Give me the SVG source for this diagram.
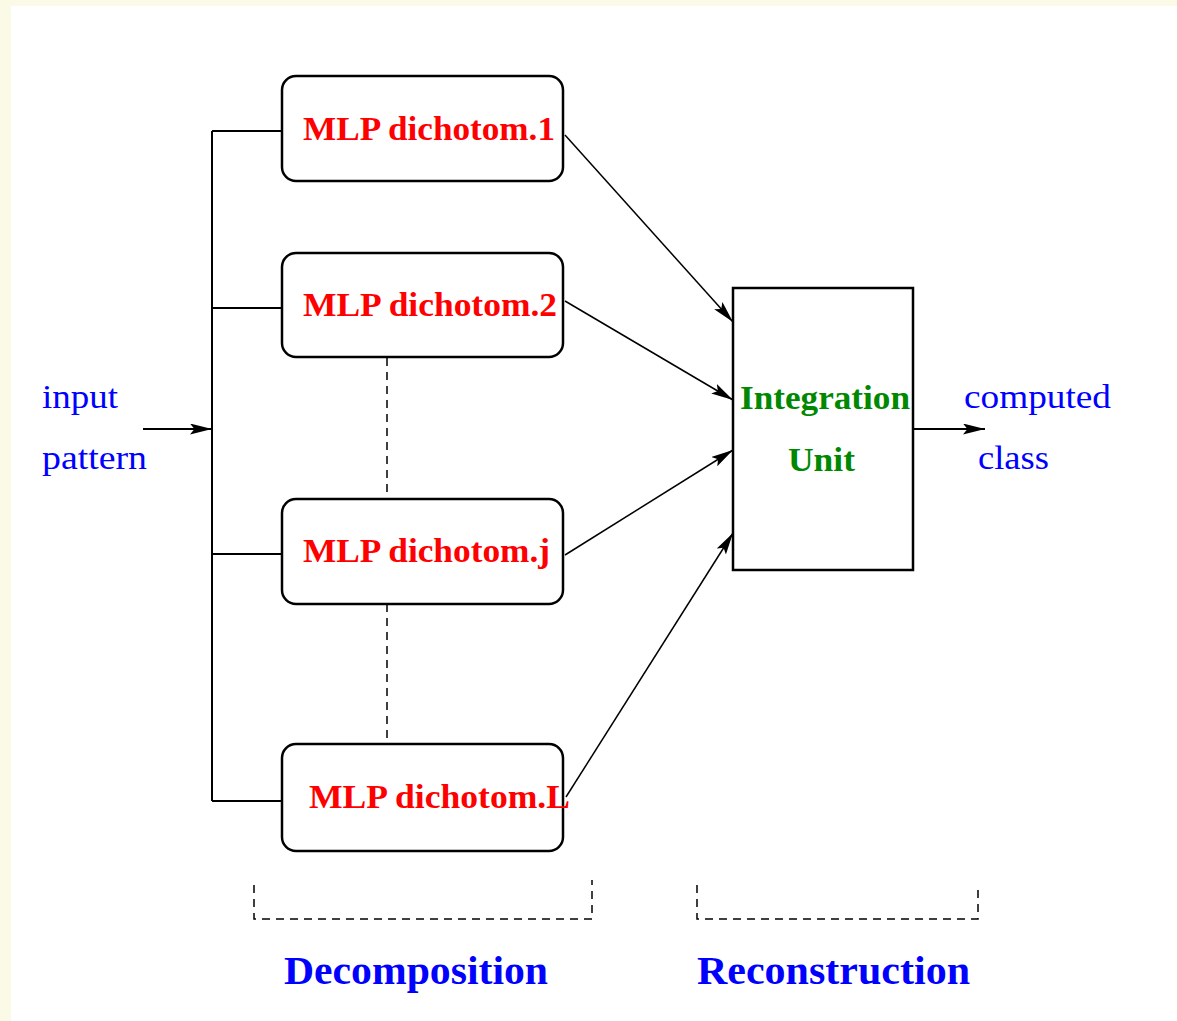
<svg xmlns="http://www.w3.org/2000/svg" width="1177" height="1021" viewBox="0 0 1177 1021">
<defs>
<style>
.box{fill:#fff;stroke:#000;stroke-width:2.5}
.ln{stroke:#000;stroke-width:2;fill:none}
.thin{stroke:#000;stroke-width:1.5;fill:none}
.dash{stroke:#000;stroke-width:1.5;fill:none;stroke-dasharray:8,6}
.mlp{font-family:"Liberation Serif",serif;font-weight:bold;font-size:33px;fill:#ff0000}
.int{font-family:"Liberation Serif",serif;font-weight:bold;font-size:33px;fill:#008800}
.io{font-family:"Liberation Serif",serif;font-size:34px;fill:#0000ff}
.sec{font-family:"Liberation Serif",serif;font-weight:bold;font-size:40px;fill:#0000ff}
</style>
<marker id="ah" viewBox="0 0 20 10" refX="20" refY="5" markerWidth="22" markerHeight="11" markerUnits="userSpaceOnUse" orient="auto">
<path d="M0,0 L20,5 L0,10 L4,5 Z" fill="#000"/>
</marker>
</defs>
<rect x="0" y="0" width="1177" height="1021" fill="#fafae6"/>
<rect x="11" y="6" width="1166" height="1015" fill="#fff"/>
<g id="connectors">
<path class="ln" d="M212,131 V801 M212,131 H282 M212,308 H282 M212,554 H282 M212,801 H282"/>
<line class="ln" x1="143" y1="429" x2="212" y2="429" marker-end="url(#ah)"/>
<line class="dash" x1="387" y1="358" x2="387" y2="498"/>
<line class="dash" x1="387" y1="604" x2="387" y2="744"/>
<line class="thin" x1="565" y1="135" x2="733" y2="322" marker-end="url(#ah)"/>
<line class="thin" x1="565" y1="301" x2="733" y2="400" marker-end="url(#ah)"/>
<line class="thin" x1="565" y1="555" x2="733" y2="450" marker-end="url(#ah)"/>
<line class="thin" x1="566" y1="797" x2="733" y2="533" marker-end="url(#ah)"/>
<line class="ln" x1="913" y1="429" x2="985" y2="429" marker-end="url(#ah)"/>
</g>
<g id="node1"><rect class="box" x="282" y="76" width="281" height="105" rx="14"/><text class="mlp" x="303" y="140" textLength="252" lengthAdjust="spacingAndGlyphs">MLP dichotom.1</text></g>
<g id="node2"><rect class="box" x="282" y="253" width="281" height="104" rx="14"/><text class="mlp" x="303" y="316" textLength="254" lengthAdjust="spacingAndGlyphs">MLP dichotom.2</text></g>
<g id="nodej"><rect class="box" x="282" y="499" width="281" height="105" rx="14"/><text class="mlp" x="303" y="562" textLength="247" lengthAdjust="spacingAndGlyphs">MLP dichotom.j</text></g>
<g id="nodeL"><rect class="box" x="282" y="744" width="281" height="107" rx="14"/><text class="mlp" x="309" y="808" textLength="261" lengthAdjust="spacingAndGlyphs">MLP dichotom.L</text></g>
<g id="integration"><rect class="box" x="733" y="288" width="180" height="282" stroke-width="2"/><text class="int" x="740" y="409" textLength="170" lengthAdjust="spacingAndGlyphs">Integration</text><text class="int" x="788" y="471" textLength="67" lengthAdjust="spacingAndGlyphs">Unit</text></g>
<g id="input"><text class="io" x="42" y="408" textLength="76" lengthAdjust="spacingAndGlyphs">input</text><text class="io" x="42" y="469" textLength="105" lengthAdjust="spacingAndGlyphs">pattern</text></g>
<g id="output"><text class="io" x="964" y="408" textLength="147" lengthAdjust="spacingAndGlyphs">computed</text><text class="io" x="978" y="469" textLength="71" lengthAdjust="spacingAndGlyphs">class</text></g>
<g id="decomposition"><path class="dash" d="M254,885 V919 H592 V880"/><text class="sec" x="284" y="984" textLength="264" lengthAdjust="spacingAndGlyphs">Decomposition</text></g>
<g id="reconstruction"><path class="dash" d="M697,885 V919 H978 V890"/><text class="sec" x="697" y="984" textLength="273" lengthAdjust="spacingAndGlyphs">Reconstruction</text></g>
</svg>
